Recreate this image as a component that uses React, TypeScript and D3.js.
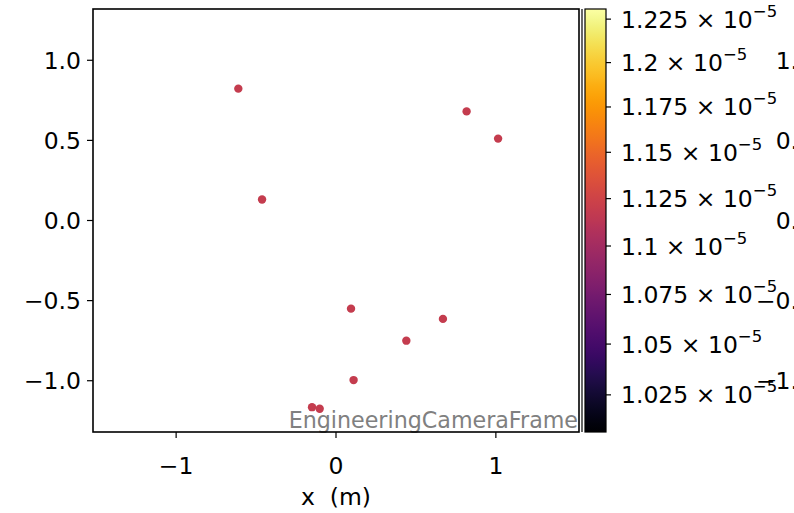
import React from "react";
import * as d3 from "d3";

const xs = [-0.611, 0.817, 1.014, -0.4625, 0.094, 0.669, 0.44, 0.11, -0.15, -0.102];
const ys = [0.823, 0.681, 0.511, 0.131, -0.55, -0.614, -0.75, -0.996, -1.165, -1.175];
const values = [1.119e-5, 1.119e-5, 1.119e-5, 1.119e-5, 1.119e-5, 1.119e-5, 1.119e-5, 1.119e-5, 1.119e-5, 1.119e-5];
const xTicks = [-1, 0, 1];
const yTicks = [1.0, 0.5, 0.0, -0.5, -1.0];
const cbTicks = [1.025, 1.05, 1.075, 1.1, 1.125, 1.15, 1.175, 1.2, 1.225];
const cbMin = 1.0071e-5;
const cbMax = 1.2309e-5;

const W = 794, H = 513;
const L = 93, R = 579, T = 9, B = 432;
const font = "DejaVu Sans";
const FS = 23.5;

const fmtY = (v: number) => (v < 0 ? "\u2212" : "") + Math.abs(v).toFixed(1);
const fmtX = (v: number) => (v < 0 ? "\u2212" : "") + Math.abs(v).toString();

export default function App() {
  const x = d3.scaleLinear().domain([-1.52, 1.52]).range([L, R]);
  const y = d3.scaleLinear().domain([-1.32, 1.32]).range([B, T]);
  const cb = d3.scaleLog().domain([cbMin, cbMax]).range([B, T]);
  const norm = d3.scaleLog().domain([cbMin, cbMax]).range([0, 1]);
  const stops = d3.range(0, 1.0001, 0.02);
  const cbL = 585, cbR = 606;
  return (
    <svg width={W} height={H} style={{ position: "absolute", left: 0, top: 0, background: "#fff" }} fontFamily={font}>
      <defs>
        <linearGradient id="inf" x1="0" y1="1" x2="0" y2="0">
          {stops.map((t, i) => (
            <stop key={i} offset={t} stopColor={d3.interpolateInferno(t)} />
          ))}
        </linearGradient>
        <clipPath id="plotclip">
          <rect x={L} y={T} width={R - L} height={B - T} />
        </clipPath>
      </defs>
      {/* neighbouring axis tick labels, mostly off the right edge */}
      {yTicks.map((v, i) => (
        <text key={"h" + i} x={813} y={y(v) + 8.5} textAnchor="end" fontSize={FS} fill="#000">
          {fmtY(v)}
        </text>
      ))}
      <line x1={582} x2={582} y1={T} y2={B} stroke="#000" strokeWidth={1.2} />
      <rect x={L} y={T} width={R - L} height={B - T} fill="#fff" />
      <g clipPath="url(#plotclip)">
        {xs.map((xv, i) => (
          <circle key={i} cx={x(xv)} cy={y(ys[i])} r={4.2} fill={d3.interpolateInferno(norm(values[i]))} />
        ))}
      </g>
      <text x={R - 1} y={428} textAnchor="end" fontSize={22.2} fill="#808080">
        EngineeringCameraFrame
      </text>
      <rect x={L} y={T} width={R - L} height={B - T} fill="none" stroke="#000" strokeWidth={1.6} />
      {xTicks.map((v, i) => (
        <g key={"x" + i}>
          <line x1={x(v)} x2={x(v)} y1={B} y2={B + 6} stroke="#000" strokeWidth={1.2} />
          <text x={x(v)} y={B + 42} textAnchor="middle" fontSize={FS}>
            {fmtX(v)}
          </text>
        </g>
      ))}
      <text x={(L + R) / 2} y={505} textAnchor="middle" fontSize={FS} style={{ whiteSpace: "pre" }}>
        {"x  (m)"}
      </text>
      {yTicks.map((v, i) => (
        <g key={"y" + i}>
          <line x1={L - 6} x2={L} y1={y(v)} y2={y(v)} stroke="#000" strokeWidth={1.2} />
          <text x={L - 12} y={y(v) + 8.5} textAnchor="end" fontSize={FS}>
            {fmtY(v)}
          </text>
        </g>
      ))}
      <rect x={cbL} y={T} width={cbR - cbL} height={B - T} fill="url(#inf)" />
      <rect x={cbL} y={T} width={cbR - cbL} height={B - T} fill="none" stroke="#000" strokeWidth={1.2} />
      {cbTicks.map((v, i) => {
        const yy = cb(v * 1e-5);
        return (
          <g key={"c" + i}>
            <line x1={cbR} x2={cbR + 5} y1={yy} y2={yy} stroke="#000" strokeWidth={1.2} />
            <text x={621} y={yy + 8.5} fontSize={FS}>
              {v.toString() + " \u00d7 10"}
              <tspan dy={-11} fontSize={16.5}>{"\u22125"}</tspan>
            </text>
          </g>
        );
      })}
    </svg>
  );
}
